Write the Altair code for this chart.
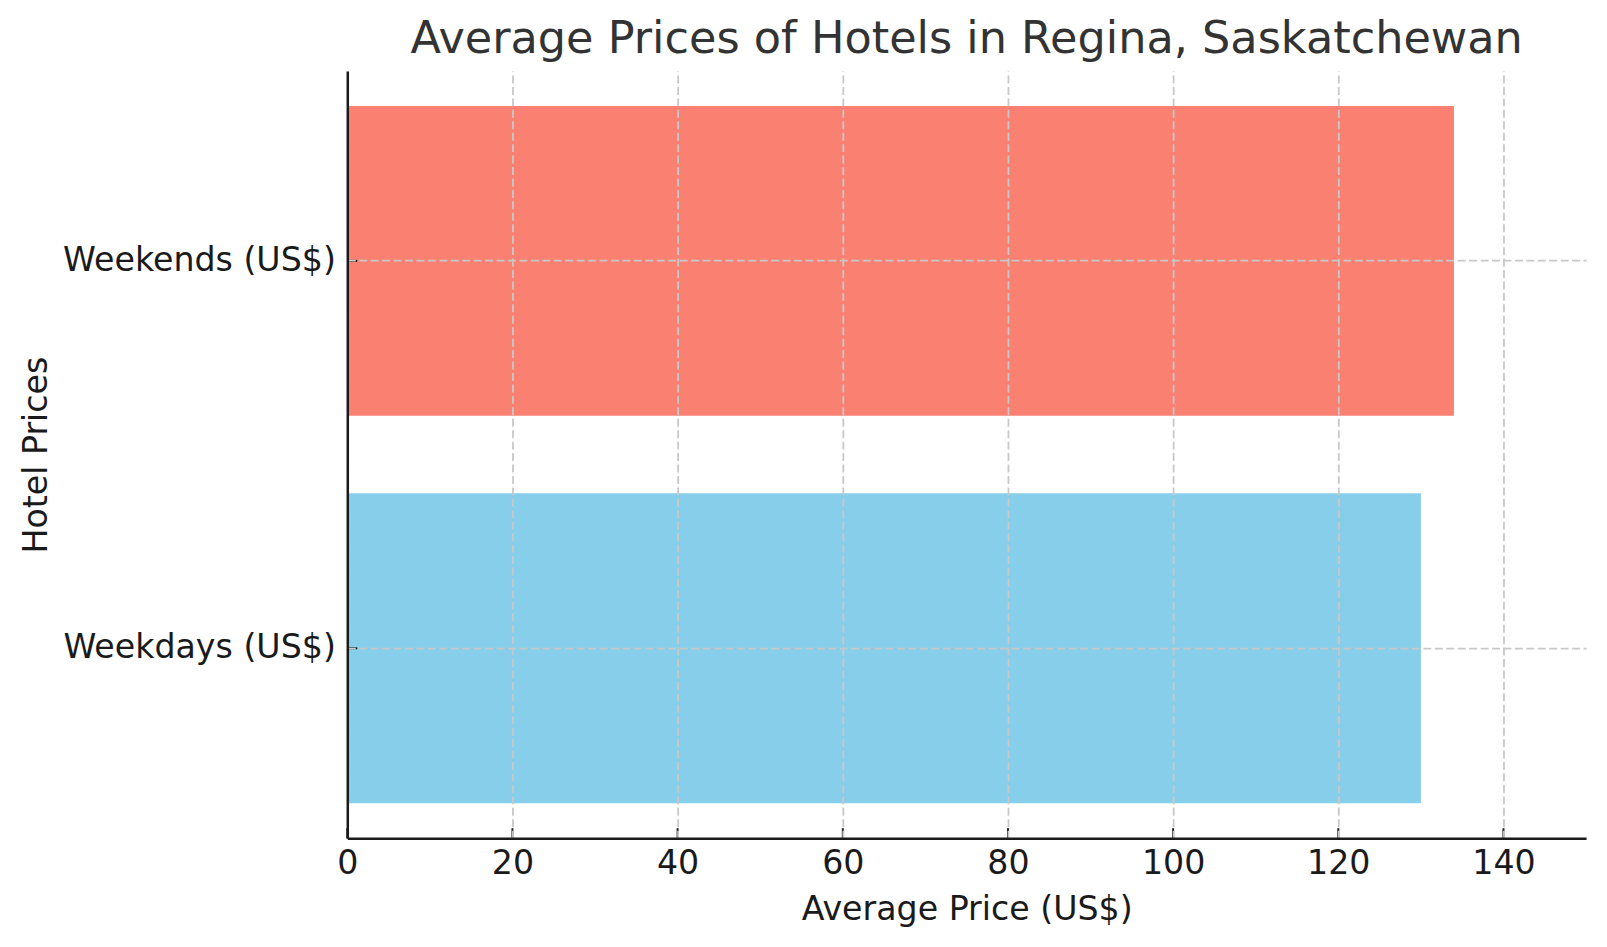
import altair as alt
import pandas as pd

categories = ["Weekdays (US$)", "Weekends (US$)"]
prices = [130, 134]
bar_colors = ["#87CEEB", "#FA8072"]
x_ticks = [0, 20, 40, 60, 80, 100, 120, 140]

FONT = "DejaVu Sans"
df = pd.DataFrame({"category": categories, "price": prices})
ticks_df = pd.DataFrame({"tick": x_ticks})
order = ["Weekends (US$)", "Weekdays (US$)"]

W, H = 1245, 771

x_scale = alt.Scale(domain=[0, 150], nice=False, zero=True)
y_scale = alt.Scale(paddingInner=0.2, paddingOuter=0.09)

bars = alt.Chart(df).mark_bar().encode(
    x=alt.X("price:Q", scale=x_scale,
            axis=alt.Axis(title="Average Price (US$)", values=x_ticks,
                          ticks=False, labelPadding=10, labelFontSize=33.4,
                          labelFont=FONT, labelColor="#1a1a1a",
                          titleFont=FONT, titleFontSize=33.4, titleFontWeight="normal",
                          titleColor="#1a1a1a", titleY=82, titleBaseline="alphabetic",
                          domainColor="#1a1a1a", domainWidth=2.5,
                          grid=True, gridColor="#c8c8c8", gridDash=[8, 3.5],
                          gridWidth=1.8, zindex=1, labelFlush=False)),
    y=alt.Y("category:N", sort=order, scale=y_scale,
            axis=alt.Axis(title="Hotel Prices", ticks=False, labelPadding=12,
                          labelFontSize=33.4, labelFont=FONT, labelColor="#1a1a1a",
                          labelLimit=0,
                          titleFont=FONT, titleFontSize=33.4, titleFontWeight="normal",
                          titleColor="#1a1a1a", titleX=-302, titleBaseline="alphabetic",
                          titleAngle=270,
                          domainColor="#1a1a1a", domainWidth=2.5,
                          grid=True, gridColor="#c8c8c8", gridDash=[8, 3.5],
                          gridWidth=1.8, bandPosition=0.5, zindex=1)),
    color=alt.Color("category:N", scale=alt.Scale(domain=categories, range=bar_colors),
                    legend=None),
)

xticks = alt.Chart(ticks_df).mark_rule(color="#1a1a1a", strokeWidth=2).encode(
    x=alt.X("tick:Q", scale=x_scale),
    y=alt.value(H),
    y2=alt.value(H - 10),
)

yticks = alt.Chart(df).mark_rule(color="#1a1a1a", strokeWidth=2).encode(
    y=alt.Y("category:N", sort=order, scale=y_scale),
    x=alt.value(0),
    x2=alt.value(10),
)

chart = alt.layer(bars, xticks, yticks).properties(
    width=W, height=H,
    title=alt.TitleParams("Average Prices of Hotels in Regina, Saskatchewan",
                          font=FONT, fontSize=44.8, fontWeight="normal", color="#333333",
                          anchor="middle", baseline="alphabetic", offset=17, dy=44,
                          frame="group"),
    padding={"left": 341, "top": 61, "right": 13, "bottom": 99},
    autosize=alt.AutoSizeParams(type="none"),
).configure_view(stroke=None)

chart.save("out.html", embed_options={"renderer": "svg", "actions": False})
